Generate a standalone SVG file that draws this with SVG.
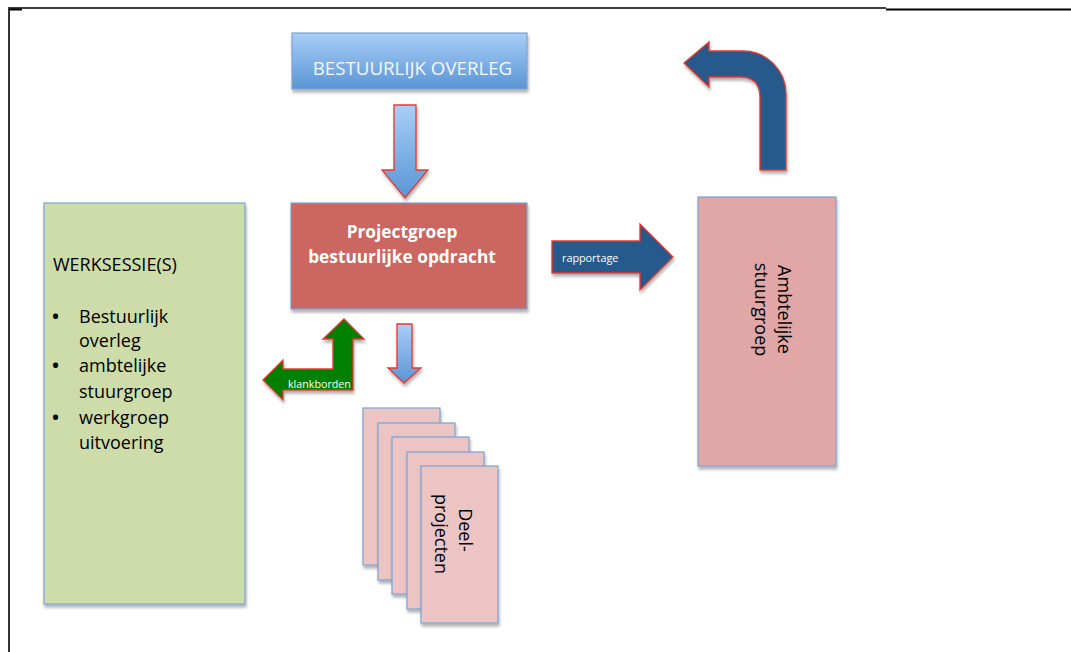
<svg xmlns="http://www.w3.org/2000/svg" width="1071" height="652" viewBox="0 0 1071 652">
<style>
text{font-family:"Open Sans","Liberation Sans",sans-serif}
.box{stroke:#7aa3d3;stroke-width:1.2}
.card{fill:#ecc4c4;stroke:#7aa3d3;stroke-width:1.2}
.arrow{stroke:#e8382b;stroke-width:1.3;stroke-linejoin:miter}
.blk{fill:#000;font-size:18px}
.bul{fill:#000;font-size:24px}
.wht{fill:#fff}
</style>
<defs>
<linearGradient id="blueG" x1="0" y1="0" x2="0" y2="1">
<stop offset="0" stop-color="#a9cef8"/>
<stop offset="1" stop-color="#5a95d5"/>
</linearGradient>
<filter id="sh" x="-10%" y="-10%" width="130%" height="130%">
<feDropShadow dx="1" dy="3" stdDeviation="1.5" flood-color="#000" flood-opacity="0.3"/>
</filter>
</defs>
<rect width="1071" height="652" fill="#fff"/>
<g id="page-border" stroke="#000" fill="none">
<line x1="8" y1="8" x2="886" y2="8" stroke-width="1.5"/>
<line x1="886" y1="9.5" x2="1071" y2="9.5" stroke-width="2"/>
<line x1="9" y1="9" x2="9" y2="652" stroke-width="1.6"/>
<line x1="9" y1="9.5" x2="22" y2="9.5" stroke-width="2"/>
</g>
<g id="node-bestuurlijk-overleg">
<rect class="box" x="292" y="33" width="235" height="56" fill="url(#blueG)" filter="url(#sh)"/>
<text x="412.5" y="75" font-size="18.7" text-anchor="middle" fill="#f4f7fb">BESTUURLIJK OVERLEG</text>
</g>
<g id="node-projectgroep">
<rect class="box" x="291" y="203" width="236" height="106" fill="#cb6660" filter="url(#sh)"/>
<text class="wht" x="402" y="238" font-size="17.3" font-weight="bold" text-anchor="middle">Projectgroep</text>
<text class="wht" x="402" y="263" font-size="17.3" font-weight="bold" text-anchor="middle">bestuurlijke opdracht</text>
</g>
<g id="node-werksessies">
<rect class="box" x="44" y="203" width="201" height="401" fill="#cddca9" filter="url(#sh)"/>
<text class="blk" x="53" y="271">WERKSESSIE(S)</text>
<text class="bul" x="51" y="325">•</text>
<text class="blk" x="79" y="323">Bestuurlijk</text>
<text class="blk" x="79" y="347">overleg</text>
<text class="bul" x="51" y="374">•</text>
<text class="blk" x="79" y="372">ambtelijke</text>
<text class="blk" x="79" y="398">stuurgroep</text>
<text class="bul" x="51" y="426">•</text>
<text class="blk" x="79" y="424">werkgroep</text>
<text class="blk" x="79" y="449">uitvoering</text>
</g>
<g id="node-ambtelijke-stuurgroep">
<rect class="box" x="698" y="197" width="138" height="269" fill="#e1a7a7" filter="url(#sh)"/>
<text class="blk" font-size="19" text-anchor="middle" transform="translate(766,309.5) rotate(90)"><tspan x="0" y="-12">Ambtelijke</tspan><tspan x="0" y="11">stuurgroep</tspan></text>
</g>
<g id="node-deelprojecten">
<rect class="card" x="363" y="408" width="77" height="157" filter="url(#sh)"/>
<rect class="card" x="378" y="423" width="77" height="157" filter="url(#sh)"/>
<rect class="card" x="392" y="437" width="77" height="157" filter="url(#sh)"/>
<rect class="card" x="407" y="452" width="77" height="157" filter="url(#sh)"/>
<rect class="card" x="421" y="466" width="77" height="157" filter="url(#sh)"/>
<text class="blk" font-size="18.5" text-anchor="middle" transform="translate(447,534) rotate(90)"><tspan x="-4" y="-12">Deel-</tspan><tspan x="0" y="12">projecten</tspan></text>
</g>
<g id="connectors">
<path id="arrow-down-main" class="arrow" fill="url(#blueG)" filter="url(#sh)" d="M394 105 L416 105 L416 170 L428 170 L405 198 L382 170 L394 170 Z"/>
<path id="arrow-down-small" class="arrow" fill="url(#blueG)" filter="url(#sh)" d="M397 324 L412 324 L412 368 L421 368 L404 383 L388 368 L397 368 Z"/>
<g id="arrow-rapportage">
<path class="arrow" fill="#275a8c" filter="url(#sh)" d="M552 241 L640 241 L640 224 L673 257 L640 290 L640 273 L552 273 Z"/>
<text class="wht" x="562" y="262" font-size="10.8">rapportage</text>
</g>
<g id="arrow-klankborden">
<path class="arrow" fill="#008000" filter="url(#sh)" d="M263 380 L283 360 L283 369 L333 369 L333 339 L323 339 L344 319 L364 339 L353 339 L353 390 L283 390 L283 400 Z"/>
<text class="wht" x="288" y="388" font-size="10.7">klankborden</text>
</g>
<path id="arrow-turn" class="arrow" fill="#275a8c" filter="url(#sh)" d="M760 170 L760 97 Q760 77 740 77 L709 77 L709 87 L684 63 L709 42 L709 51 L743 51 A43 43 0 0 1 786 94 L786 170 Z"/>
</g>
</svg>
